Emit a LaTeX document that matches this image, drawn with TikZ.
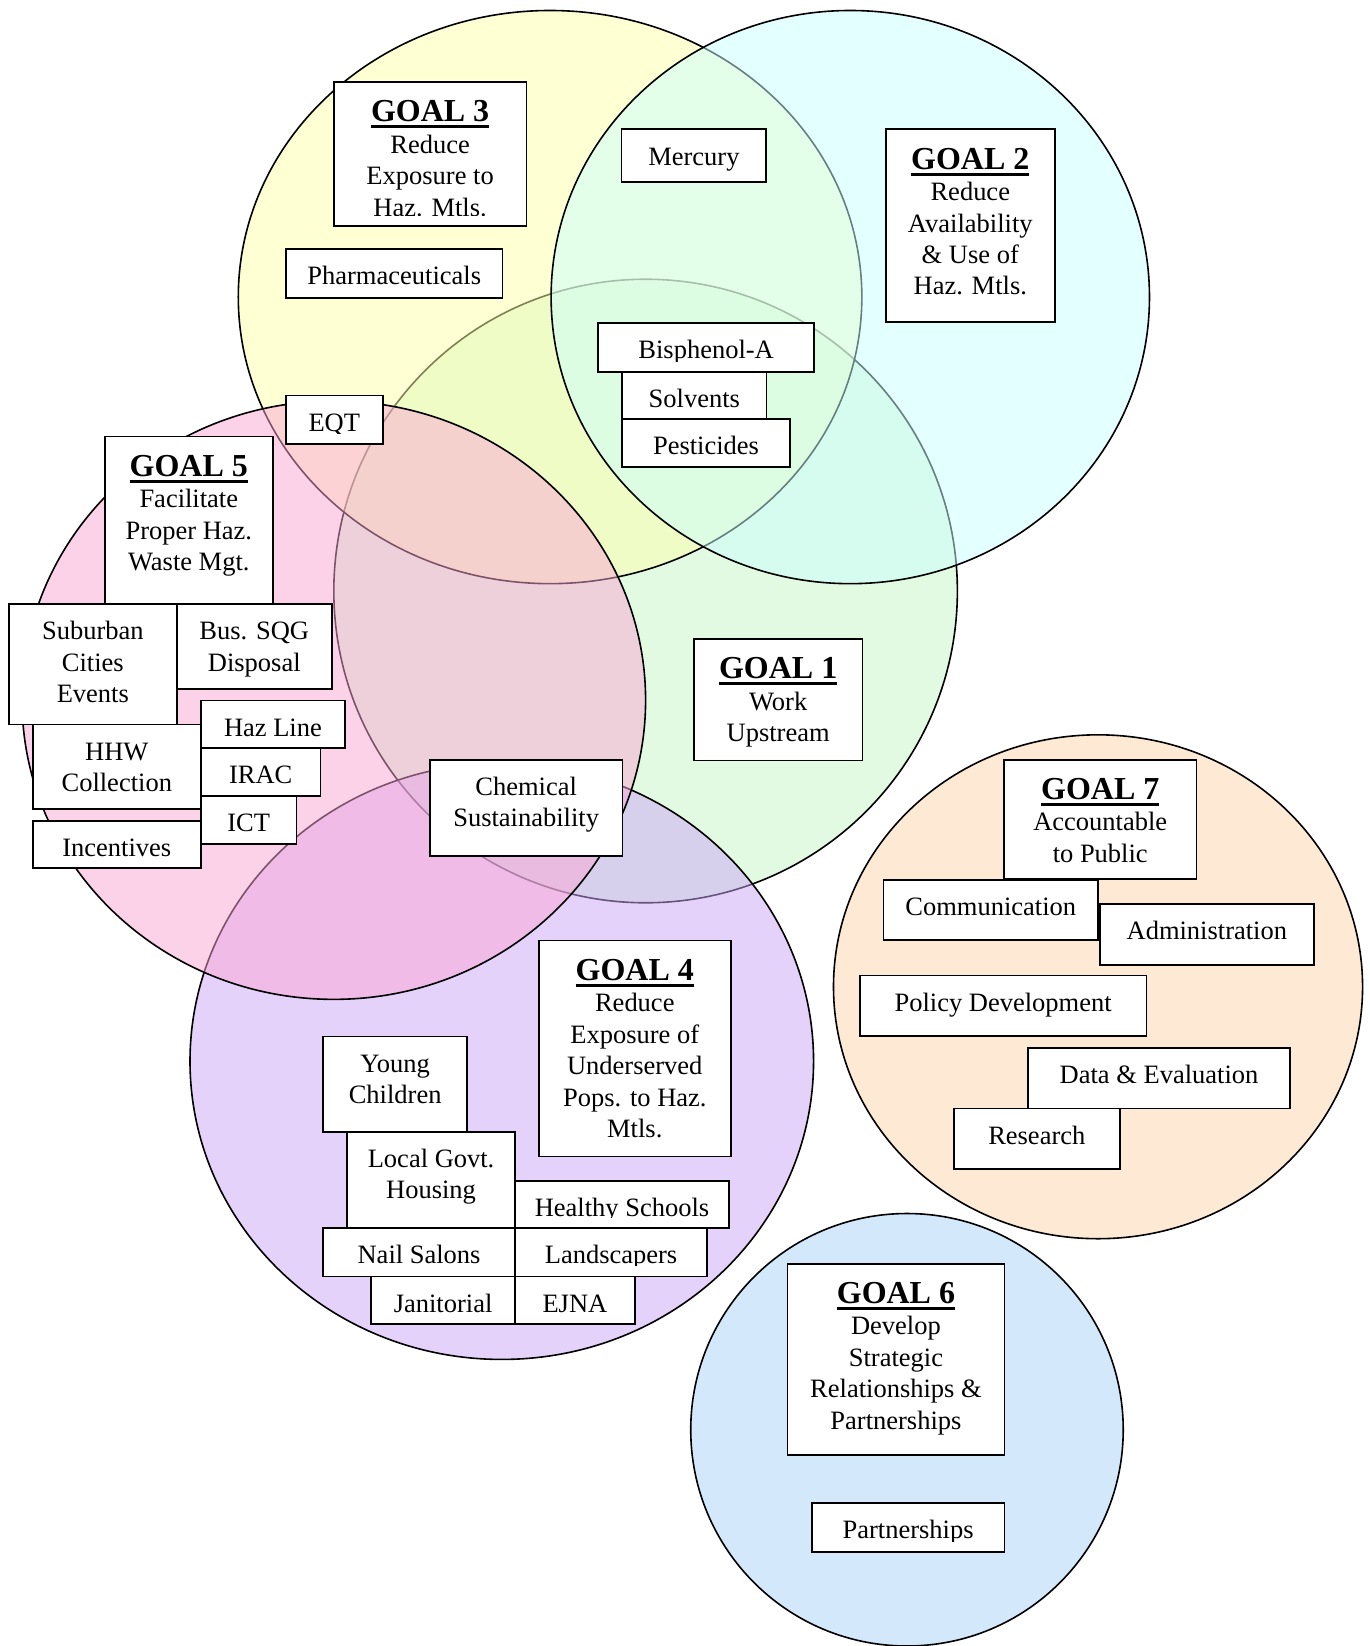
\documentclass[tikz,border=0pt]{standalone}
\usepackage{fontspec}
\setmainfont{Liberation Serif}
\usetikzlibrary{fit}
\definecolor{cg}{RGB}{199,247,199}
\definecolor{cu}{RGB}{205,167,247}
\definecolor{cy}{RGB}{255,255,171}
\definecolor{cc}{RGB}{203,255,255}
\definecolor{cp}{RGB}{251,167,213}
\definecolor{co}{RGB}{253,233,212}
\definecolor{cb}{RGB}{211,232,251}
\newsavebox\gulbox
\newcommand\gul[1]{\sbox\gulbox{#1}\rlap{\rule[-6.5pt]{\wd\gulbox}{3pt}}\usebox\gulbox}
\newcommand\goal[1]{\rule{0pt}{24pt}{\fontsize{32}{31.5}\selectfont\bfseries\gul{GOAL #1}}}
\newcommand\fl{\rule{0pt}{20pt}}
\newcommand\gbox[6]{%
  \node[bx, fit={(#1,#2) (#3,#4)}] (#5) {};
  \begin{scope}
    \clip (#1,#2) rectangle (#3,#4-10);
    \node[txt] (#5t) at ([yshift=-15.5pt]#5.north) {#6};
  \end{scope}}
\tikzset{
  circ/.style={draw=black, line width=1.6pt, fill opacity=0.5},
  circo/.style={draw=black, line width=1.6pt},
  bx/.style={draw=black, fill=white, line width=1.8pt, inner sep=0pt, outer sep=0pt, rectangle},
  txt/.style={align=center, inner sep=0pt, anchor=north, font=\fontsize{26.5}{31.5}\selectfont}
}
\begin{document}
\begin{tikzpicture}[x=1.05pt, y=-1.05pt]
\useasboundingbox (0,0) rectangle (1305,1568);
\fill[white] (0,0) rectangle (1305,1568);
% circles (bottom to top)
\path[circ, fill=cg] (615,563) ellipse [x radius=297, y radius=297];
\path[circ, fill=cu] (478,1011) ellipse [x radius=297, y radius=284];
\path[circ, fill=cy] (524,283) ellipse [x radius=297, y radius=273];
\path[circ, fill=cc] (810,283) ellipse [x radius=285, y radius=273];
\path[circ, fill=cp] (318,667) ellipse [x radius=297, y radius=285];
\path[circo, fill=co] (1046,940) ellipse [x radius=252, y radius=240];
\path[circo, fill=cb] (864,1362) ellipse [x radius=206, y radius=206];
% boxes
\gbox{318}{78}{501.5}{215}{g3}{\goal{3}\\Reduce\\Exposure to\\Haz. Mtls.}
\gbox{272.4}{237.4}{478.7}{283.5}{pharm}{\fl Pharmaceuticals}
\gbox{592}{123.2}{730}{173.6}{merc}{\fl Mercury}
\gbox{843.8}{123.2}{1004.8}{306.4}{g2}{\goal{2}\\Reduce\\Availability\\\& Use of\\Haz. Mtls.}
\gbox{569.8}{307.9}{775.5}{354}{bisa}{\fl Bisphenol-A}
\gbox{592.7}{354}{730.2}{399}{solv}{\fl Solvents}
\gbox{592.7}{399}{752.4}{445}{pest}{\fl Pesticides}
\gbox{272.4}{376.8}{364.5}{422.6}{eqt}{\fl EQT}
\gbox{100}{415.9}{259.7}{575.5}{g5}{\goal{5}\\Facilitate\\Proper Haz.\\Waste Mgt.}
\gbox{8.6}{575.5}{168.3}{690.2}{sub}{\fl Suburban\\Cities\\Events}
\gbox{168.3}{575.5}{316.2}{656.5}{sqg}{\fl Bus. SQG\\Disposal}
\gbox{191.4}{667.3}{328.6}{712.7}{haz}{\fl Haz Line}
\gbox{31.1}{690.2}{191.4}{770.5}{hhw}{\fl HHW\\Collection}
\gbox{191.4}{712.7}{305.4}{758.1}{irac}{\fl IRAC}
\gbox{191.4}{758.1}{282.5}{803.8}{ict}{\fl ICT}
\gbox{31.1}{781.9}{191.4}{827}{inc}{\fl Incentives}
\gbox{661}{608.9}{821.6}{724.5}{g1}{\goal{1}\\Work\\Upstream}
\gbox{409.5}{723.8}{593}{815.2}{chem}{\fl Chemical\\Sustainability}
\gbox{956.5}{723.8}{1139.7}{837.5}{g7}{\goal{7}\\Accountable\\to Public}
\gbox{841.6}{838.1}{1046}{895.5}{comm}{\fl Communication}
\gbox{1047.6}{861}{1251.7}{919}{admin}{\fl Administration}
\gbox{819}{929.2}{1092.1}{986.7}{pol}{\fl Policy Development}
\gbox{979}{998.4}{1229.2}{1055.9}{data}{\fl Data \& Evaluation}
\gbox{908.6}{1055.9}{1066.7}{1113.7}{res}{\fl Research}
\gbox{513.2}{895.9}{696.2}{1101.6}{g4}{\goal{4}\\Reduce\\Exposure of\\Underserved\\Pops. to Haz.\\Mtls.}
\gbox{307.9}{987.3}{445}{1078.1}{young}{\fl Young\\Children}
\gbox{330.8}{1078.1}{490.5}{1169.8}{local}{\fl Local Govt.\\Housing}
\gbox{490.5}{1124.8}{694.6}{1169.8}{healthy}{\fl Healthy Schools}
\gbox{307.9}{1169.8}{490.5}{1215.9}{nail}{\fl Nail Salons}
\gbox{490.5}{1169.8}{673.7}{1215.9}{land}{\fl Landscapers}
\gbox{353.7}{1215.9}{490.5}{1261}{jan}{\fl Janitorial}
\gbox{490.5}{1215.9}{604.8}{1261}{ejna}{\fl EJNA}
\gbox{750.2}{1203.8}{956.8}{1386.4}{g6}{\goal{6}\\Develop\\Strategic\\Relationships \&\\Partnerships}
\gbox{773.3}{1431.7}{956.8}{1478.1}{part}{\fl Partnerships}
\end{tikzpicture}
\end{document}
